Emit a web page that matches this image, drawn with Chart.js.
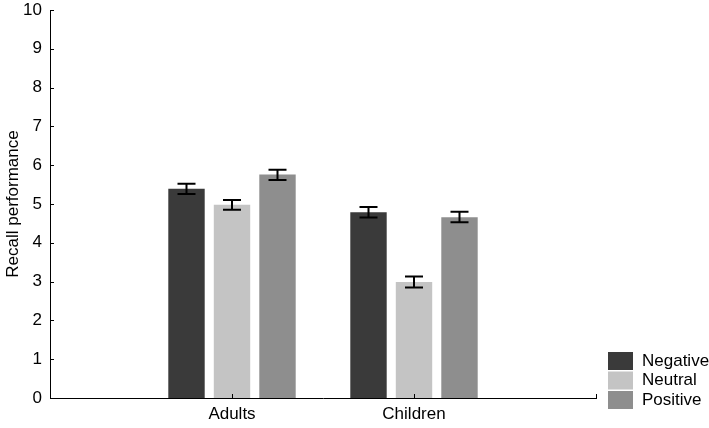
<!DOCTYPE html>
<html>
<head>
<meta charset="utf-8">
<script src="https://cdn.jsdelivr.net/npm/chart.js@4"></script>
<style>
  html, body { margin: 0; padding: 0; background: #fff; }
  #wrap { width: 709px; height: 428px; }
</style>
</head>
<body>
<div id="wrap"><canvas id="chart"></canvas></div>
<script>
// groups on the x axis (blank slots at both ends keep the spacing of the original)
const groups = ["Adults", "Children"];
const seriesNames = ["Negative", "Neutral", "Positive"];
const seriesColors = ["#3a3a3a", "#c4c4c4", "#8e8e8e"];
// means per series, one value per group
const negative = [5.39, 4.79];
const neutral = [4.98, 2.99];
const positive = [5.76, 4.66];
// error bar low / high
const negLow = [5.26, 4.65], negHigh = [5.52, 4.92];
const neuLow = [4.85, 2.85], neuHigh = [5.10, 3.13];
const posLow = [5.62, 4.53], posHigh = [5.88, 4.80];
const yTicks = [0, 1, 2, 3, 4, 5, 6, 7, 8, 9, 10];

const labels = ["", ...groups, ""];
const pad = arr => [null, ...arr, null];
const means = [negative, neutral, positive];
const lows = [negLow, neuLow, posLow];
const highs = [negHigh, neuHigh, posHigh];

const font = { family: "Liberation Sans, Arial, sans-serif", size: 17 };

// error bars + inward ticks
const extras = {
  id: "extras",
  afterDatasetsDraw(chart) {
    const ctx = chart.ctx;
    const y = chart.scales.y, x = chart.scales.x;
    ctx.save();
    ctx.strokeStyle = "#000";
    ctx.lineWidth = 2;
    chart.data.datasets.forEach((ds, i) => {
      const meta = chart.getDatasetMeta(i);
      meta.data.forEach((bar, j) => {
        if (ds.data[j] == null) return;
        const lo = y.getPixelForValue(lows[i][j - 1]);
        const hi = y.getPixelForValue(highs[i][j - 1]);
        const cx = bar.x, w = 9;
        ctx.beginPath();
        ctx.moveTo(cx, lo); ctx.lineTo(cx, hi);
        ctx.moveTo(cx - w, lo); ctx.lineTo(cx + w, lo);
        ctx.moveTo(cx - w, hi); ctx.lineTo(cx + w, hi);
        ctx.stroke();
      });
    });
    ctx.lineWidth = 1;
    ctx.beginPath();
    yTicks.forEach(v => {
      const py = Math.round(y.getPixelForValue(v)) + 0.5;
      ctx.moveTo(x.left, py); ctx.lineTo(x.left + 4, py);
    });
    for (let k = 1; k < labels.length; k++) {
      const px = Math.round(x.getPixelForValue(k)) + 0.5;
      ctx.moveTo(px, y.bottom); ctx.lineTo(px, y.bottom - 4);
    }
    ctx.stroke();
    ctx.restore();
  }
};

// legend boxes at the lower right
const sideLegend = {
  id: "sideLegend",
  afterDraw(chart) {
    const ctx = chart.ctx;
    ctx.save();
    ctx.font = font.size + "px " + font.family;
    ctx.textBaseline = "middle";
    chart.data.datasets.forEach((ds, i) => {
      const top = 352 + i * 19.5;
      ctx.fillStyle = ds.backgroundColor;
      ctx.fillRect(608, top, 25, 18);
      ctx.fillStyle = "#000";
      ctx.fillText(ds.label, 642, top + 9);
    });
    ctx.restore();
  }
};

new Chart(document.getElementById("chart"), {
  type: "bar",
  data: {
    labels: labels,
    datasets: seriesNames.map((name, i) => ({
      label: name,
      data: pad(means[i]),
      backgroundColor: seriesColors[i],
      categoryPercentage: 0.75,
      barPercentage: 0.8
    }))
  },
  options: {
    responsive: true,
    maintainAspectRatio: false,
    animation: false,
    layout: { padding: { top: 10, right: 113, left: 0, bottom: 0 } },
    plugins: {
      legend: { display: false },
      tooltip: { enabled: false }
    },
    scales: {
      x: {
        offset: false,
        grid: { display: false, drawTicks: false },
        border: { color: "#000", width: 1 },
        ticks: { color: "#000", font: font, padding: 6, maxRotation: 0, autoSkip: false },
        afterFit(s) { s.height = 30; }
      },
      y: {
        min: 0,
        max: 10,
        afterBuildTicks(s) { s.ticks = yTicks.map(v => ({ value: v })); },
        grid: { display: false, drawTicks: false },
        border: { color: "#000", width: 1 },
        ticks: { color: "#000", font: font, padding: 8 },
        title: { display: true, text: "Recall performance", color: "#000", font: font, padding: { top: 3, bottom: 0 } },
        afterFit(s) { s.width = 50; s.paddingTop = 0; s.paddingBottom = 0; }
      }
    }
  },
  plugins: [extras, sideLegend]
});
</script>
</body>
</html>
